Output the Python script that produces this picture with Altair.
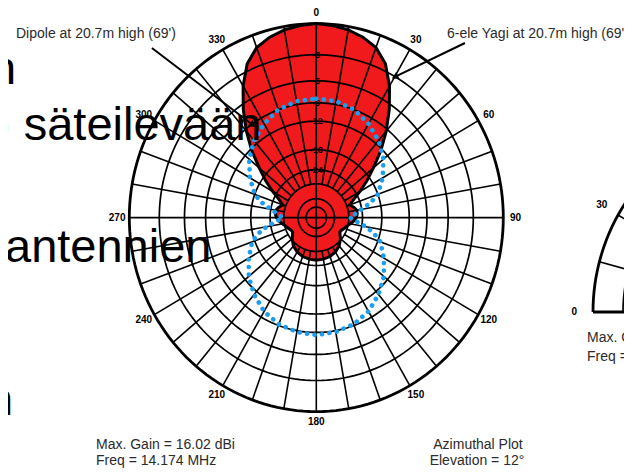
import altair as alt
import pandas as pd

# ---------------- values ----------------
# 6-element Yagi azimuth pattern (dB relative to max), 0..180 deg, mirrored for 180..360
YAGI_AZ = [0, 5, 10, 15, 20, 25, 30, 35, 40, 45, 50, 55, 60, 65, 70, 75, 80, 85, 90,
           95, 100, 105, 110, 115, 120, 125, 130, 140, 150, 160, 170, 180]
YAGI_DB = [0, -0.1, -0.3, -0.65, -1.2, -2.3, -4.2, -6.6, -9.3, -12.3, -15.8, -19.0, -22.5,
           -26.0, -28.5, -27.0, -26.0, -26.0, -26.5, -27.5, -29.0, -30.5, -31.5, -32.5,
           -33.0, -32.0, -30.5, -28.5, -27.2, -26.5, -26.2, -26.0]
# Dipole azimuth pattern (dB relative to Yagi max)
DIPOLE_AZ = [0, 10, 20, 30, 40, 50, 60, 70, 75, 80, 85, 90, 95, 100, 105, 110, 120, 130,
             140, 150, 160, 170, 180]
DIPOLE_DB = [-8.4, -8.5, -9.0, -10.0, -11.3, -13.0, -15.3, -18.0, -20.5, -24.0, -27.0,
             -29.5, -26.5, -22.5, -19.5, -17.3, -15.0, -12.9, -11.3, -10.0, -9.2, -8.8, -8.6]

RING_DB = [0, -3, -6, -9, -12, -18, -24, -30, -40, -50]
RING_LABELS = ["-3", "-6", "-9", "-12", "-18", "-24"]
RING_LABEL_DB = [-3, -6, -9, -12, -18, -24]
AZ_TICKS = [0, 30, 60, 90, 120, 150, 180, 210, 240, 270, 300, 330]
SPOKE_AZ = list(range(0, 360, 10))
ELEV_SPOKES = list(range(15, 180, 15))
ELEV_TICKS = [0, 30]

TITLE_LEFT = ["Max. Gain = 16.02 dBi", "Freq = 14.174 MHz"]
TITLE_RIGHT = ["Azimuthal Plot", "Elevation = 12°"]
ELEV_TEXT = ["Max. Gain = 16.02 dBi", "Freq = 14.174 MHz"]
DIPOLE_NOTE = "Dipole at 20.7m high (69')"
YAGI_NOTE = "6-ele Yagi at 20.7m high (69')"
SLIDE_LINES = ["n", ") säteilevään", "antennien", "n"]

# ---------------- layout (pixels on the page) ----------------
RX, RY = 187.0, 194.0
CX, CY = 316.3, 217.6
W, H = 616, 460
XDOM = [(8 - CX) / RX, (624 - CX) / RX]
YDOM = [(CY - 468) / RY, (CY - 8) / RY]
EX, EY = (780 - CX) / RX, (CY - 312) / RY   # centre of the (cut-off) elevation plot

RED = "#f01a1c"
BLUE = "#1a9ff0"
TXT = "#2b2b2b"
FONT = "Liberation Sans"


def mirror(az, db):
    a = list(az) + [360 - v for v in reversed(az) if 0 < v < 180]
    d = list(db) + [db[az.index(v)] for v in reversed(az) if 0 < v < 180]
    return pd.DataFrame({"az": a, "db": d, "i": range(len(a))})


yagi = mirror(YAGI_AZ, YAGI_DB)
dip = mirror(DIPOLE_AZ, DIPOLE_DB)

rings = pd.DataFrame([(db, a) for db in RING_DB for a in range(0, 362, 2)], columns=["db", "a"])
erings = pd.DataFrame([(db, a) for db in RING_DB for a in range(0, 182, 2)], columns=["db", "a"])

R_EXPR = "pow(0.89, -datum.db / 2)"


def X(f="x"):
    return alt.X(f + ":Q", scale=alt.Scale(domain=XDOM, nice=False, zero=False), axis=None)


def Y(f="y"):
    return alt.Y(f + ":Q", scale=alt.Scale(domain=YDOM, nice=False, zero=False), axis=None)


def polar(chart, az="datum.az"):
    return chart.transform_calculate(
        r=R_EXPR,
        x=f"datum.r * sin({az} * PI / 180)",
        y=f"datum.r * cos({az} * PI / 180)",
    )


# Yagi fill
yagi_fill = polar(alt.Chart(yagi)).mark_line(
    interpolate="linear-closed", fill=RED, stroke=RED, strokeWidth=0.5, clip=True
).encode(x=X(), y=Y(), order="i:Q")

# grid rings
ring_base = alt.Chart(rings).transform_calculate(
    r=R_EXPR,
    x="datum.r * sin(datum.a * PI / 180)",
    y="datum.r * cos(datum.a * PI / 180)",
)
grid_rings = ring_base.transform_filter("datum.db < 0").mark_line(
    stroke="black", strokeWidth=1.7, clip=True
).encode(x=X(), y=Y(), detail="db:N", order="a:Q")
outer_ring = ring_base.transform_filter("datum.db == 0").mark_line(
    stroke="black", strokeWidth=2.8, clip=True
).encode(x=X(), y=Y(), order="a:Q")

# spokes
spokes = alt.Chart(pd.DataFrame({"az": SPOKE_AZ})).transform_calculate(
    r0="datum.az % 90 == 0 ? 0 : pow(0.89, 15)",
    x="datum.r0 * sin(datum.az * PI / 180)",
    y="datum.r0 * cos(datum.az * PI / 180)",
    x2="sin(datum.az * PI / 180)",
    y2="cos(datum.az * PI / 180)",
).mark_rule(stroke="black", strokeWidth=1.6, clip=True).encode(
    x=X(), y=Y(), x2="x2:Q", y2="y2:Q")

# Yagi outline
yagi_line = polar(alt.Chart(yagi)).mark_line(
    interpolate="linear-closed", stroke="black", strokeWidth=3, clip=True
).encode(x=X(), y=Y(), order="i:Q")

# ring labels along the 0 deg axis
ring_lab = alt.Chart(pd.DataFrame({"db": RING_LABEL_DB, "t": RING_LABELS})).transform_calculate(
    r=R_EXPR, x="0", y="datum.r"
).mark_text(font=FONT, fontSize=9, fontWeight="bold", color="black", clip=True).encode(
    x=X(), y=Y(), text="t:N")

# dipole (blue dotted)
dip_line = polar(alt.Chart(dip)).mark_line(
    interpolate="linear-closed", stroke=BLUE, strokeWidth=4.6, strokeDash=[0.1, 7.4],
    strokeCap="round", clip=True
).encode(x=X(), y=Y(), order="i:Q")

# azimuth labels
az_lab = alt.Chart(pd.DataFrame({"az": AZ_TICKS})).transform_calculate(
    x="1.065 * sin(datum.az * PI / 180)",
    y="1.055 * cos(datum.az * PI / 180)",
    t="'' + datum.az",
).mark_text(font=FONT, fontSize=10, fontWeight="bold", color="black", clip=True).encode(
    x=X(), y=Y(), text="t:N")

# elevation plot (cut off at the right edge)
e_base = alt.Chart(erings).transform_calculate(
    r=R_EXPR,
    x=f"{EX} - datum.r * cos(datum.a * PI / 180)",
    y=f"{EY} + datum.r * sin(datum.a * PI / 180)",
)
e_rings = e_base.transform_filter("datum.db < 0").mark_line(
    stroke="black", strokeWidth=1.7, clip=True
).encode(x=X(), y=Y(), detail="db:N", order="a:Q")
e_outer = e_base.transform_filter("datum.db == 0").mark_line(
    stroke="black", strokeWidth=2.8, clip=True
).encode(x=X(), y=Y(), order="a:Q")
e_spokes = alt.Chart(pd.DataFrame({"e": ELEV_SPOKES})).transform_calculate(
    x=f"{EX} - pow(0.89, 15) * cos(datum.e * PI / 180)",
    y=f"{EY} + pow(0.89, 15) * sin(datum.e * PI / 180)",
    x2=f"{EX} - cos(datum.e * PI / 180)",
    y2=f"{EY} + sin(datum.e * PI / 180)",
).mark_rule(stroke="black", strokeWidth=1.6, clip=True).encode(
    x=X(), y=Y(), x2="x2:Q", y2="y2:Q")
e_base_line = alt.Chart(pd.DataFrame({"k": [0]})).transform_calculate(
    x=f"{EX} - 1", x2=f"{EX} + 1", y=f"{EY}"
).mark_rule(stroke="black", strokeWidth=2.8, clip=True).encode(x=X(), x2="x2:Q", y=Y())
e_lab = alt.Chart(pd.DataFrame({"e": ELEV_TICKS})).transform_calculate(
    x=f"{EX} - 1.1 * cos(datum.e * PI / 180)",
    y=f"{EY} + 1.1 * sin(datum.e * PI / 180)",
    t="'' + datum.e",
).mark_text(font=FONT, fontSize=10, fontWeight="bold", color="black", clip=True).encode(
    x=X(), y=Y(), text="t:N")

# annotation leaders (unit coordinates of tail and tip)
ANN_X1 = [-0.879, 0.795]
ANN_Y1 = [0.874, 0.900]
ANN_X2 = [-0.339, 0.420]
ANN_Y2 = [0.477, 0.725]
ANN_ANGLE = [127, 244]
ann = pd.DataFrame({"x": ANN_X1, "y": ANN_Y1, "x2": ANN_X2, "y2": ANN_Y2, "ang": ANN_ANGLE})
leaders = alt.Chart(ann).mark_rule(stroke="black", strokeWidth=2, clip=True).encode(
    x=X(), y=Y(), x2="x2:Q", y2="y2:Q")
heads = alt.Chart(ann).mark_point(shape="triangle-up", filled=True, color="black",
                                  size=60, opacity=1, clip=True).encode(
    x=X("x2"), y=Y("y2"), angle=alt.Angle("ang:Q", scale=None))


def text_layer(t, px, py, size, color, align="left", weight="normal"):
    return alt.Chart(pd.DataFrame({"t": [t]})).mark_text(
        font=FONT, fontSize=size, color=color, align=align, baseline="alphabetic",
        fontWeight=weight, clip=True
    ).encode(text="t:N", x=alt.value(px - 8), y=alt.value(py - 8))


notes = [
    text_layer(DIPOLE_NOTE, 16, 38, 14, TXT),
    text_layer(YAGI_NOTE, 447, 38, 14, TXT),
    text_layer(TITLE_LEFT[0], 96, 449, 14, TXT),
    text_layer(TITLE_LEFT[1], 96, 465, 14, TXT),
    text_layer(TITLE_RIGHT[0], 478, 449, 14, TXT, align="center"),
    text_layer(TITLE_RIGHT[1], 477, 465, 14, TXT, align="center"),
    text_layer(ELEV_TEXT[0], 587, 342, 14, TXT),
    text_layer(ELEV_TEXT[1], 587, 361, 14, TXT),
]
slide = [
    text_layer(SLIDE_LINES[0], -10, 84, 47, "black"),
    text_layer(SLIDE_LINES[1], -5, 140, 47, "black"),
    text_layer(SLIDE_LINES[2], 5, 262, 47, "black"),
    text_layer(SLIDE_LINES[3], -13, 415, 47, "black"),
]

chart = alt.layer(
    yagi_fill, grid_rings, spokes, outer_ring, yagi_line, ring_lab, dip_line, az_lab,
    e_rings, e_spokes, e_outer, e_base_line, e_lab,
    leaders, heads, *notes, *slide
).properties(
    width=W, height=H, autosize="none", padding=0, background="white"
).configure_view(stroke=None)

chart.save("out.html", embed_options={"renderer": "svg", "actions": False})
